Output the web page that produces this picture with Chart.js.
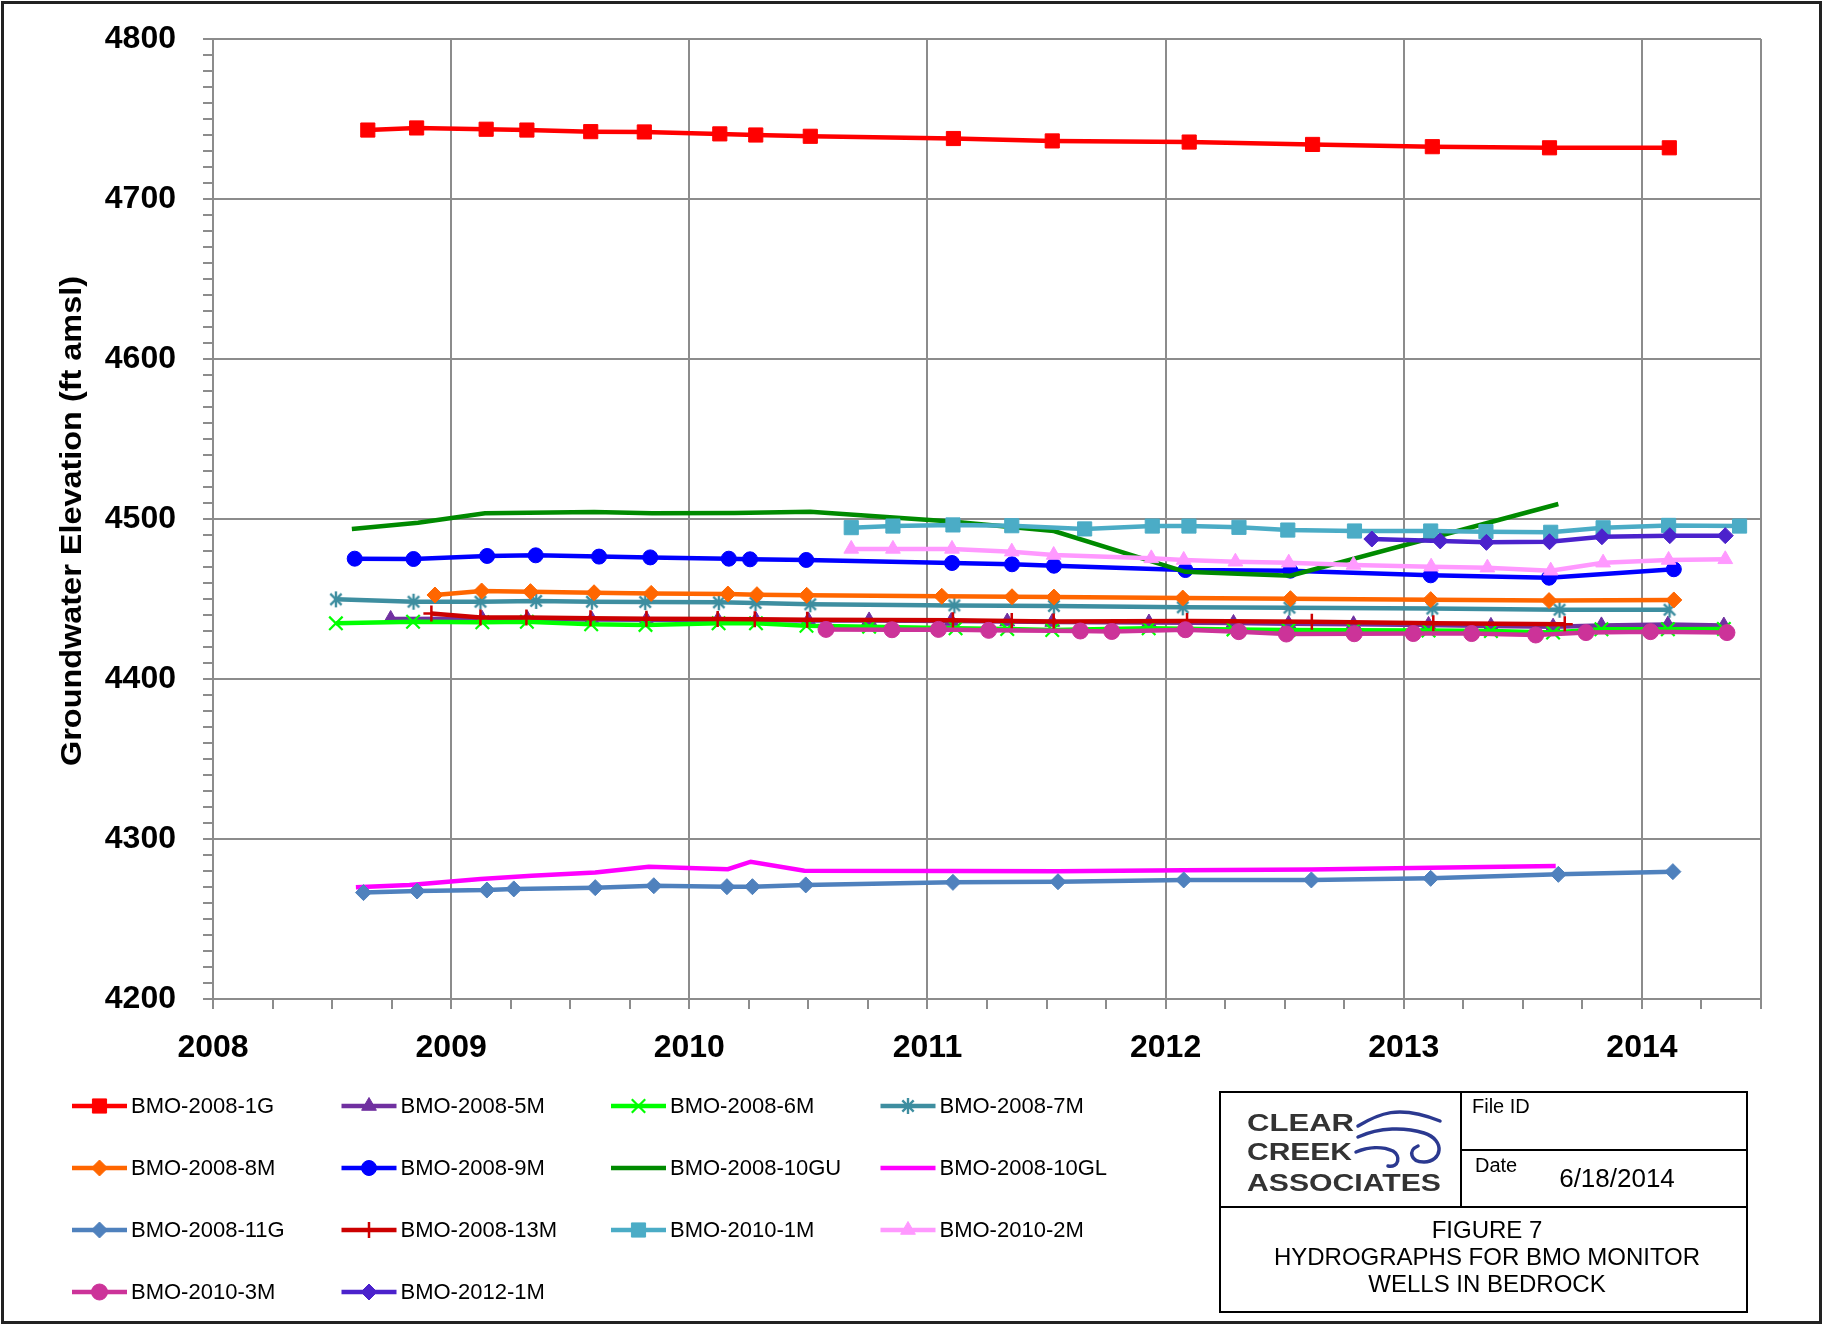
<!DOCTYPE html>
<html><head><meta charset="utf-8">
<script src="https://cdn.jsdelivr.net/npm/chart.js@4.4.1/dist/chart.umd.min.js"></script>
<style>html,body{margin:0;padding:0;background:#fff;} canvas{display:block;}</style>
</head><body>
<canvas id="c" width="1825" height="1325"></canvas>
<script>
// ---------- DATA (decimal years, elevation ft amsl) ----------
const seriesNames = ['BMO-2008-1G','BMO-2008-5M','BMO-2008-6M','BMO-2008-7M','BMO-2008-8M','BMO-2008-9M','BMO-2008-10GU','BMO-2008-10GL','BMO-2008-11G','BMO-2008-13M','BMO-2010-1M','BMO-2010-2M','BMO-2010-3M','BMO-2012-1M'];
const xTickYears = [2008, 2009, 2010, 2011, 2012, 2013, 2014];
const yTickValues = [4200, 4300, 4400, 4500, 4600, 4700, 4800];

const g1Dates = [2008.65, 2008.855, 2009.147, 2009.318, 2009.586, 2009.811, 2010.128, 2010.279, 2010.508, 2011.109, 2011.524, 2012.099, 2012.617, 2013.12, 2013.612, 2014.115];
const g1Elev  = [4743.1, 4744.4, 4743.6, 4743.1, 4742.1, 4741.9, 4740.7, 4740.0, 4739.2, 4737.8, 4736.3, 4735.6, 4734.1, 4732.7, 4732.0, 4732.0];

const m5Dates = [2008.746, 2009.13, 2009.32, 2009.59, 2009.82, 2010.12, 2010.28, 2010.5, 2010.755, 2011.1, 2011.335, 2011.524, 2011.93, 2012.285, 2012.516, 2012.789, 2013.104, 2013.366, 2013.627, 2013.83, 2014.109, 2014.344];
const m5Elev  = [4437.5, 4437.6, 4437.5, 4437.2, 4437.0, 4436.9, 4436.8, 4436.6, 4436.6, 4436.2, 4435.9, 4435.6, 4435.3, 4435.0, 4434.5, 4434.2, 4433.8, 4433.2, 4432.7, 4433.5, 4434.0, 4433.4];

const m6Dates = [2008.516, 2008.84, 2009.131, 2009.318, 2009.588, 2009.816, 2010.123, 2010.28, 2010.492, 2010.755, 2011.118, 2011.335, 2011.524, 2011.929, 2012.285, 2012.516, 2012.789, 2013.104, 2013.366, 2013.627, 2013.83, 2014.109, 2014.344];
const m6Elev  = [4434.8, 4435.8, 4435.4, 4435.8, 4434.2, 4433.8, 4434.8, 4434.8, 4433.3, 4432.7, 4431.7, 4431.2, 4430.6, 4431.7, 4431.0, 4430.6, 4430.5, 4430.3, 4430.0, 4429.0, 4431.1, 4431.1, 4431.3];

const m7Dates = [2008.516, 2008.842, 2009.123, 2009.357, 2009.591, 2009.815, 2010.124, 2010.278, 2010.508, 2011.113, 2011.531, 2012.072, 2012.52, 2013.12, 2013.654, 2014.116];
const m7Elev  = [4449.8, 4448.3, 4448.3, 4448.8, 4448.3, 4448.1, 4447.9, 4447.5, 4446.7, 4446.0, 4445.6, 4444.8, 4444.6, 4444.0, 4443.3, 4443.3];

const m8Dates = [2008.932, 2009.128, 2009.333, 2009.6, 2009.84, 2010.162, 2010.284, 2010.493, 2011.06, 2011.355, 2011.531, 2012.072, 2012.524, 2013.113, 2013.61, 2014.134];
const m8Elev  = [4452.5, 4455.0, 4454.6, 4453.9, 4453.5, 4453.1, 4452.7, 4452.3, 4451.7, 4451.4, 4451.2, 4450.6, 4450.2, 4449.6, 4449.0, 4449.4];

const m9Dates = [2008.595, 2008.842, 2009.151, 2009.355, 2009.621, 2009.836, 2010.166, 2010.255, 2010.491, 2011.103, 2011.355, 2011.531, 2012.083, 2012.524, 2013.113, 2013.61, 2014.134];
const m9Elev  = [4475.2, 4475.0, 4476.9, 4477.3, 4476.5, 4476.0, 4475.2, 4474.8, 4474.4, 4472.5, 4471.7, 4470.8, 4468.1, 4467.7, 4464.8, 4463.3, 4468.6];

const gu10Dates = [2008.583, 2008.861, 2009.142, 2009.6, 2009.844, 2010.19, 2010.508, 2011.1, 2011.531, 2012.083, 2012.524, 2013.649];
const gu10Elev  = [4493.8, 4497.7, 4503.6, 4504.4, 4503.6, 4503.8, 4504.6, 4498.5, 4492.5, 4467.0, 4464.6, 4509.4];

const gl10Dates = [2008.6, 2008.825, 2009.124, 2009.338, 2009.605, 2009.83, 2010.162, 2010.258, 2010.483, 2011.107, 2011.548, 2012.076, 2012.612, 2013.113, 2013.638];
const gl10Elev  = [4269.8, 4271.3, 4275.0, 4277.1, 4279.0, 4282.7, 4281.1, 4285.8, 4280.2, 4280.0, 4279.9, 4280.4, 4281.0, 4282.0, 4283.1];

const g11Dates = [2008.632, 2008.857, 2009.15, 2009.263, 2009.605, 2009.851, 2010.158, 2010.265, 2010.489, 2011.107, 2011.548, 2012.076, 2012.612, 2013.113, 2013.649, 2014.13];
const g11Elev  = [4266.5, 4267.5, 4268.1, 4268.8, 4269.6, 4270.8, 4270.2, 4270.2, 4271.3, 4272.9, 4273.3, 4274.4, 4274.4, 4275.4, 4277.9, 4279.6];

const m13Dates = [2008.917, 2009.123, 2009.316, 2009.585, 2009.82, 2010.119, 2010.275, 2010.495, 2011.107, 2011.354, 2011.53, 2012.09, 2012.614, 2013.124, 2013.676];
const m13Elev  = [4441.0, 4438.5, 4438.4, 4437.9, 4437.7, 4437.5, 4437.3, 4437.1, 4436.7, 4436.2, 4436.0, 4436.3, 4435.8, 4434.8, 4434.2];

const w1Dates = [2010.68, 2010.855, 2011.107, 2011.354, 2011.66, 2011.944, 2012.098, 2012.308, 2012.513, 2012.793, 2013.113, 2013.345, 2013.617, 2013.837, 2014.112, 2014.41];
const w1Elev  = [4494.6, 4495.6, 4496.3, 4495.8, 4493.8, 4495.6, 4495.6, 4494.8, 4493.1, 4492.5, 4492.5, 4492.1, 4491.7, 4494.5, 4496.0, 4495.6];

const w2Dates = [2010.68, 2010.855, 2011.103, 2011.354, 2011.53, 2011.94, 2012.076, 2012.293, 2012.517, 2012.789, 2013.115, 2013.351, 2013.617, 2013.837, 2014.112, 2014.35];
const w2Elev  = [4481.3, 4481.3, 4481.3, 4479.6, 4477.5, 4475.4, 4474.4, 4473.3, 4472.7, 4471.3, 4470.2, 4469.6, 4467.7, 4472.7, 4474.4, 4474.8];

const w3Dates = [2010.574, 2010.851, 2011.046, 2011.257, 2011.642, 2011.774, 2012.083, 2012.307, 2012.507, 2012.792, 2013.04, 2013.285, 2013.554, 2013.765, 2014.036, 2014.357];
const w3Elev  = [4431.0, 4430.8, 4431.0, 4430.4, 4430.0, 4429.7, 4430.8, 4429.6, 4428.1, 4428.3, 4428.4, 4428.4, 4427.5, 4429.0, 4429.6, 4429.0];

const n1Dates = [2012.866, 2013.153, 2013.347, 2013.612, 2013.832, 2014.117, 2014.35];
const n1Elev  = [4487.5, 4486.3, 4485.4, 4485.8, 4488.9, 4489.6, 4489.6];

// ---------- STYLES ----------
function asterisk(color, r) {
  const s = Math.ceil(r * 2 + 4);
  const c = document.createElement('canvas');
  c.width = c.height = s;
  const g = c.getContext('2d');
  g.strokeStyle = color; g.lineWidth = 2.4;
  const m = s / 2;
  [90, 45, -45].forEach(a => {
    const rad = a * Math.PI / 180;
    g.beginPath();
    g.moveTo(m - r * Math.cos(rad), m - r * Math.sin(rad));
    g.lineTo(m + r * Math.cos(rad), m + r * Math.sin(rad));
    g.stroke();
  });
  return c;
}

const pairs = [
  [g1Dates, g1Elev], [m5Dates, m5Elev], [m6Dates, m6Elev], [m7Dates, m7Elev],
  [m8Dates, m8Elev], [m9Dates, m9Elev], [gu10Dates, gu10Elev], [gl10Dates, gl10Elev],
  [g11Dates, g11Elev], [m13Dates, m13Elev], [w1Dates, w1Elev], [w2Dates, w2Elev],
  [w3Dates, w3Elev], [n1Dates, n1Elev]
];
const styles = [
  {color: '#ff0000', point: 'rect', r: 10, bw: 1},
  {color: '#7030a0', point: 'triangle', r: 8.5, bw: 1},
  {color: '#00ff00', point: 'crossRot', r: 9.5, bw: 2.2},
  {color: '#3e8ea0', point: asterisk('#3e8ea0', 8), r: 8, bw: 1},
  {color: '#ff6600', point: 'rectRot', r: 8, bw: 1},
  {color: '#0000ff', point: 'circle', r: 7.5, bw: 1},
  {color: '#008a00', point: false, r: 0, bw: 0},
  {color: '#ff00ff', point: false, r: 0, bw: 0},
  {color: '#4f81bd', point: 'rectRot', r: 8, bw: 1},
  {color: '#cc0000', point: 'cross', r: 8, bw: 2.5},
  {color: '#4bacc6', point: 'rect', r: 10, bw: 1},
  {color: '#ff99ff', point: 'triangle', r: 8.5, bw: 1},
  {color: '#cc3399', point: 'circle', r: 8, bw: 1},
  {color: '#4b22cc', point: 'rectRot', r: 8, bw: 1}
];

const datasets = seriesNames.map((name, i) => ({
  label: name,
  data: pairs[i][0].map((x, k) => ({x: x, y: pairs[i][1][k]})),
  borderColor: styles[i].color,
  backgroundColor: styles[i].color,
  borderWidth: 4.5,
  pointStyle: styles[i].point || 'circle',
  pointRadius: styles[i].point ? styles[i].r : 0,
  pointHoverRadius: styles[i].point ? styles[i].r : 0,
  pointBorderWidth: styles[i].bw,
  pointBorderColor: styles[i].color,
  pointBackgroundColor: styles[i].color,
  tension: 0,
  fill: false,
  order: -i
}));

const FONT = '"Liberation Sans", Arial, sans-serif';
const GRID = '#8c8c8c';

const overlay = {
  id: 'overlay',
  beforeDraw(chart) {
    const ctx = chart.ctx;
    ctx.save(); ctx.fillStyle = '#fff'; ctx.fillRect(0, 0, chart.width, chart.height); ctx.restore();
  },
  afterDraw(chart) {
    const ctx = chart.ctx;
    ctx.save();
    // Y axis title
    ctx.fillStyle = '#000';
    ctx.font = 'bold 29px ' + FONT;
    ctx.textAlign = 'center'; ctx.textBaseline = 'middle';
    const title = 'Groundwater Elevation (ft amsl)';
    const tw = ctx.measureText(title).width;
    ctx.translate(73, 521); ctx.rotate(-Math.PI / 2); ctx.scale(490 / tw, 1);
    ctx.fillText(title, 0, 0);
    ctx.restore();

    // Legend
    ctx.save();
    const colX = [72, 341.5, 611, 880.5];
    const rowY = [1106, 1168, 1230, 1292];
    ctx.font = '22px ' + FONT;
    ctx.textBaseline = 'middle'; ctx.textAlign = 'left';
    chart.data.datasets.forEach((ds, i) => {
      const x = colX[i % 4], y = rowY[Math.floor(i / 4)];
      ctx.strokeStyle = ds.borderColor; ctx.lineWidth = 4.5;
      ctx.beginPath(); ctx.moveTo(x, y); ctx.lineTo(x + 55, y); ctx.stroke();
      if (styles[i].point) {
        ctx.fillStyle = ds.borderColor; ctx.strokeStyle = ds.borderColor; ctx.lineWidth = styles[i].bw;
        Chart.helpers.drawPoint(ctx, {pointStyle: styles[i].point, radius: styles[i].r, rotation: 0, borderWidth: styles[i].bw}, x + 27.5, y);
      }
      ctx.fillStyle = '#000';
      ctx.fillText(ds.label, x + 59, y + 1);
    });
    ctx.restore();

    // Title block
    ctx.save();
    ctx.strokeStyle = '#000'; ctx.lineWidth = 2;
    ctx.strokeRect(1220, 1092, 527, 220);
    ctx.beginPath();
    ctx.moveTo(1220, 1207); ctx.lineTo(1747, 1207);
    ctx.moveTo(1461, 1092); ctx.lineTo(1461, 1207);
    ctx.moveTo(1461, 1150); ctx.lineTo(1747, 1150);
    ctx.stroke();
    ctx.fillStyle = '#000'; ctx.textBaseline = 'middle';
    ctx.font = '20px ' + FONT; ctx.textAlign = 'left';
    ctx.fillText('File ID', 1472, 1107);
    ctx.fillText('Date', 1475, 1166);
    ctx.font = '26px ' + FONT; ctx.textAlign = 'center';
    ctx.fillText('6/18/2014', 1617, 1180);
    ctx.font = '24px ' + FONT;
    ctx.fillText('FIGURE 7', 1487, 1231);
    ctx.fillText('HYDROGRAPHS FOR BMO MONITOR', 1487, 1258);
    ctx.fillText('WELLS IN BEDROCK', 1487, 1285);
    // Logo text
    ctx.fillStyle = '#333'; ctx.textAlign = 'left';
    ctx.font = 'bold 23px ' + FONT;
    [['CLEAR', 1247, 1125, 107], ['CREEK', 1247, 1154, 105], ['ASSOCIATES', 1247, 1185, 194]].forEach(([t, x, y, w]) => {
      const mw = ctx.measureText(t).width;
      ctx.save(); ctx.translate(x, y); ctx.scale(w / mw, 1); ctx.fillText(t, 0, 0); ctx.restore();
    });
    // Logo waves
    ctx.strokeStyle = '#2b3990'; ctx.lineWidth = 3.5; ctx.lineCap = 'round';
    ctx.beginPath();
    ctx.moveTo(1358, 1126); ctx.bezierCurveTo(1378, 1114, 1398, 1104, 1440, 1121);
    ctx.moveTo(1358, 1137); ctx.bezierCurveTo(1380, 1127, 1405, 1127, 1424, 1133);
    ctx.bezierCurveTo(1446, 1140, 1442, 1162, 1424, 1162);
    ctx.bezierCurveTo(1410, 1162, 1408, 1150, 1418, 1146);
    ctx.moveTo(1356, 1152); ctx.bezierCurveTo(1368, 1147, 1382, 1146, 1393, 1151);
    ctx.bezierCurveTo(1401, 1156, 1399, 1168, 1388, 1166);
    ctx.stroke();
    ctx.restore();

    // Outer border
    ctx.save();
    ctx.strokeStyle = '#222'; ctx.lineWidth = 3;
    ctx.strokeRect(2.5, 2.5, 1818, 1320);
    ctx.restore();
  }
};

new Chart(document.getElementById('c'), {
  type: 'line',
  data: {datasets: datasets},
  options: {
    responsive: false,
    animation: false,
    devicePixelRatio: 1,
    events: [],
    layout: {autoPadding: false, padding: {left: 20, top: 39, right: 64, bottom: 246}},
    plugins: {legend: {display: false}, tooltip: {enabled: false}, title: {display: false}},
    scales: {
      x: {
        type: 'linear', min: 2008, max: 2014.5,
        afterFit: s => { s.height = 80; s.paddingLeft = 0; s.paddingRight = 0; },
        ticks: {
          stepSize: 0.25, autoSkip: false, maxRotation: 0, padding: 20,
          color: '#000', font: {family: FONT, size: 32, weight: 'bold'},
          callback: v => xTickYears.includes(v) ? String(v) : ''
        },
        grid: {
          color: c => (c.tick && (Number.isInteger(c.tick.value) || c.tick.value === 2014.5)) ? GRID : 'rgba(0,0,0,0)',
          tickColor: GRID, lineWidth: 2, tickLength: 10, drawTicks: true
        },
        border: {display: true, color: GRID, width: 2}
      },
      y: {
        type: 'linear', min: 4200, max: 4800,
        afterFit: s => { s.width = 193; s.paddingTop = 0; s.paddingBottom = 0; },
        ticks: {
          stepSize: 10, autoSkip: false, padding: 27,
          color: '#000', font: {family: FONT, size: 32, weight: 'bold'},
          callback: v => yTickValues.includes(v) ? String(v) : ''
        },
        grid: {
          color: c => (c.tick && c.tick.value % 100 === 0) ? GRID : 'rgba(0,0,0,0)',
          tickColor: GRID, lineWidth: 2, tickLength: 10, drawTicks: true
        },
        border: {display: true, color: GRID, width: 2}
      }
    }
  },
  plugins: [overlay]
});
</script>
</body></html>
